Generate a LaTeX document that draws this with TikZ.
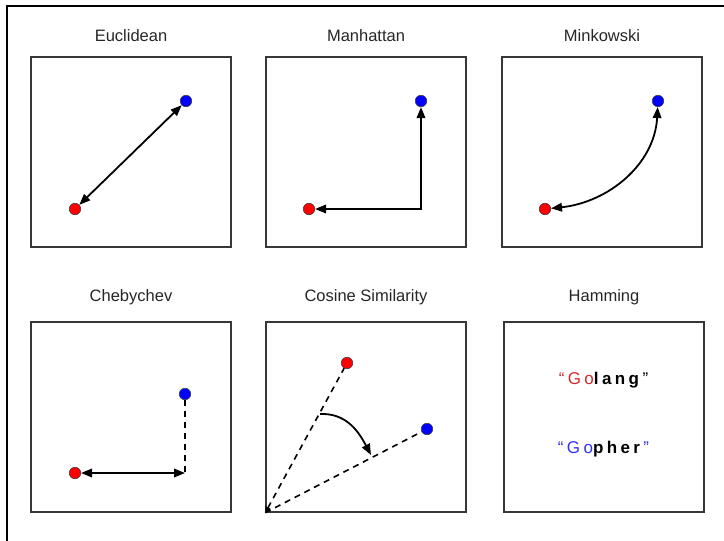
\documentclass[tikz,border=0pt]{standalone}
\usepackage{fontspec}
\setmainfont{Liberation Sans}
\usetikzlibrary{
    positioning,                      % above=of, etc.
    arrows.meta                       % Triangle tips
}
\definecolor{dot_red}{RGB}{255,0,0}
\definecolor{dot_blue}{RGB}{0,0,255}
\definecolor{go_red}{RGB}{210,40,40}
\definecolor{go_blue}{RGB}{50,50,240}
\definecolor{frame_gray}{RGB}{55,55,55}

\begin{document}
\begin{tikzpicture}[
      x=1pt, y=1pt,
      panel/.style ={draw=frame_gray, line width=1.5pt, minimum width=200pt, minimum height=190pt, inner sep=0pt},
      title/.style ={font=\fontsize{16.5}{19}\selectfont, text=black!85, inner sep=0pt},
      pt_red/.style ={circle, draw=black!75, fill=dot_red,  minimum size=11.5pt, inner sep=0pt, line width=0.6pt},
      pt_blue/.style={circle, draw=black!75, fill=dot_blue, minimum size=11.5pt, inner sep=0pt, line width=0.6pt},
      metric/.style={line width=1.8pt, {Triangle[length=11pt, width=8.5pt]}-{Triangle[length=11pt, width=8.5pt]}},
      oneway/.style={line width=1.8pt, -{Triangle[length=11pt, width=8.5pt]}},
      proj/.style  ={line width=1.6pt, dash pattern=on 6pt off 5pt},
      word/.style  ={font=\fontsize{17}{20}\selectfont\addfontfeature{LetterSpace=20}, inner sep=0pt}
    ]

    \useasboundingbox (0,0) rectangle (724,-541);

    % --- Marco exterior ---
    \draw[line width=2.5pt] (7,-541) -- (7,-6) -- (724,-6);

    % --- Paneles (fila superior) ---
    \node[panel] (p_euc) at (131,-152) {};
    \node[panel] (p_man) at (366,-152) {};
    \node[panel] (p_min) at (602,-152) {};

    % --- Paneles (fila inferior) ---
    \node[panel] (p_che) at (131,-417) {};
    \node[panel] (p_cos) at (366,-417) {};
    \node[panel] (p_ham) at (604,-417) {};

    % --- Titulos ---
    \node[title, above=14pt of p_euc] (t_euc) {Euclidean};
    \node[title, above=14pt of p_man] (t_man) {Manhattan};
    \node[title, above=14pt of p_min] (t_min) {Minkowski};
    \node[title, above=16pt of p_che] (t_che) {Chebychev};
    \node[title, above=16pt of p_cos] (t_cos) {Cosine Similarity};
    \node[title, above=16pt of p_ham] (t_ham) {Hamming};

    % --- Euclidean ---
    \node[pt_blue] (e_blue) at (186,-101) {};
    \node[pt_red]  (e_red)  at (75,-209)  {};
    \draw[metric] (e_red) -- (e_blue);

    % --- Manhattan ---
    \node[pt_blue] (m_blue) at (421,-101) {};
    \node[pt_red]  (m_red)  at (309,-209) {};
    \draw[metric] (m_blue) |- (m_red);

    % --- Minkowski ---
    \node[pt_blue] (k_blue) at (658,-101) {};
    \node[pt_red]  (k_red)  at (545,-209) {};
    \draw[metric] (k_red) to[out=6, in=-93] (k_blue);

    % --- Chebychev ---
    \node[pt_blue] (c_blue) at (185,-394) {};
    \node[pt_red]  (c_red)  at (75,-473)  {};
    \coordinate (c_corner) at (185,-473);
    \draw[proj] (c_blue) -- (c_corner);
    \draw[metric] (c_red) -- (c_corner);

    % --- Cosine Similarity ---
    \coordinate (o) at (p_cos.south west);
    \node[pt_red]  (s_red)  at (347,-363) {};
    \node[pt_blue] (s_blue) at (427,-429) {};
    \draw[proj, {Triangle[length=6pt, width=6pt]}-] (o) -- (s_red);
    \draw[proj] (o) -- (s_blue);
    \coordinate (a_start) at (320,-414);
    \coordinate (a_end)   at (371,-455);
    \draw[oneway] (a_start) -- ++(4,0) to[out=-2, in=118] (a_end);

    % --- Hamming ---
    \node[word] (w_golang) at (603.5,-380)
        {\textcolor{go_red}{``Go}\textbf{lang}''};
    \node[word] (w_gopher) at (603.5,-449)
        {\textcolor{go_blue}{``Go}\textbf{pher}\textcolor{go_blue}{''}};

\end{tikzpicture}
\end{document}
